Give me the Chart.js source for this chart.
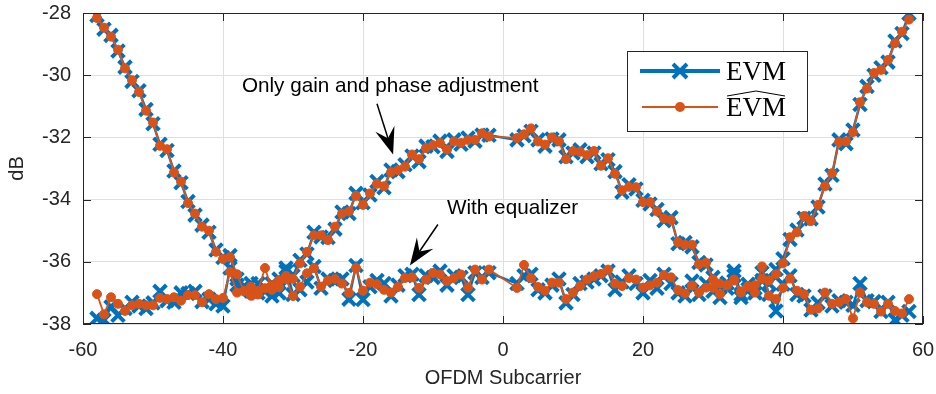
<!DOCTYPE html>
<html>
<head>
<meta charset="utf-8">
<script src="https://cdn.jsdelivr.net/npm/chart.js@4.4.0/dist/chart.umd.min.js"></script>
<style>
  html, body { margin: 0; padding: 0; background: #fff; }
  #wrap { width: 936px; height: 394px; }
</style>
</head>
<body>
<div id="wrap"><canvas id="evmChart" width="936" height="394"></canvas></div>
<script>
// subcarrier indices (DC and its neighbours are not used)
const subcarriers = [
  -58, -57, -56, -55, -54, -53, -52, -51, -50, -49,
  -48, -47, -46, -45, -44, -43, -42, -41, -40, -39,
  -38, -37, -36, -35, -34, -33, -32, -31, -30, -29,
  -28, -27, -26, -25, -24, -23, -22, -21, -20, -19,
  -18, -17, -16, -15, -14, -13, -12, -11, -10, -9,
  -8, -7, -6, -5, -4, -3, -2,
  2, 3, 4, 5, 6, 7, 8, 9, 10, 11,
  12, 13, 14, 15, 16, 17, 18, 19, 20, 21,
  22, 23, 24, 25, 26, 27, 28, 29, 30, 31,
  32, 33, 34, 35, 36, 37, 38, 39, 40, 41,
  42, 43, 44, 45, 46, 47, 48, 49, 50, 51,
  52, 53, 54, 55, 56, 57, 58
]

// only gain and phase adjustment
const gainPhaseEvm = [
  -28.08, -28.52, -28.72, -29.22, -29.74, -30.20, -30.50, -31.10, -31.56, -32.22,
  -32.42, -33.08, -33.46, -34.06, -34.50, -34.82, -35.05, -35.62, -35.86, -35.80,
  -36.55, -36.80, -36.70, -37.00, -36.95, -36.70, -36.55, -36.30, -36.45, -35.95,
  -35.75, -35.05, -35.20, -35.22, -34.95, -34.40, -34.45, -33.80, -34.10, -33.85,
  -33.42, -33.62, -33.05, -33.10, -32.88, -32.60, -32.78, -32.28, -32.30, -32.12,
  -32.45, -32.08, -32.22, -32.02, -32.12, -31.92, -31.93,
  -32.08, -31.95, -31.80, -32.08, -32.28, -32.05, -32.08, -32.62, -32.50, -32.40,
  -32.62, -32.50, -32.85, -32.72, -33.10, -33.76, -33.52, -33.66, -34.02, -34.14,
  -34.32, -34.68, -34.58, -35.42, -35.38, -35.52, -36.02, -36.10, -36.50, -36.78,
  -36.68, -36.30, -37.05, -36.72, -36.85, -36.60, -36.70, -36.25, -35.90, -35.28,
  -34.98, -34.60, -34.62, -34.24, -33.50, -33.22, -32.08, -32.20, -31.76, -30.94,
  -30.36, -30.00, -29.76, -29.58, -28.90, -28.66, -28.02
]
const gainPhaseEvmHat = [
  -28.16, -28.47, -28.76, -29.18, -29.78, -30.16, -30.54, -31.14, -31.52, -32.27,
  -32.38, -33.13, -33.42, -34.11, -34.45, -34.87, -35.00, -35.68, -35.91, -35.85,
  -36.40, -36.95, -36.80, -37.05, -36.85, -36.75, -36.60, -36.45, -36.55, -36.05,
  -35.68, -35.15, -35.15, -35.30, -34.87, -34.45, -34.38, -33.88, -34.17, -33.80,
  -33.49, -33.57, -33.12, -33.05, -32.94, -32.55, -32.70, -32.34, -32.25, -32.18,
  -32.39, -32.13, -32.18, -32.08, -32.08, -31.87, -31.97,
  -32.02, -31.90, -31.71, -32.13, -32.23, -32.00, -32.13, -32.70, -32.44, -32.46,
  -32.57, -32.44, -32.91, -32.67, -33.17, -33.70, -33.59, -33.60, -34.08, -34.08,
  -34.38, -34.61, -34.65, -35.37, -35.45, -35.45, -36.08, -36.03, -36.57, -36.70,
  -36.75, -36.60, -36.95, -36.80, -36.75, -36.55, -36.60, -36.40, -36.05, -35.21,
  -35.05, -34.53, -34.69, -34.17, -33.57, -33.15, -32.15, -32.13, -31.83, -30.87,
  -30.43, -29.93, -29.83, -29.51, -28.97, -28.60, -28.21
]

// with equalizer
const equalizerEvm = [
  -37.82, -37.87, -37.45, -37.72, -37.50, -37.30, -37.42, -37.50, -37.32, -36.95,
  -37.25, -37.30, -37.00, -37.02, -36.95, -37.28, -37.20, -37.35, -37.42, -36.20,
  -36.75, -36.80, -36.95, -36.70, -36.85, -37.10, -37.00, -36.20, -37.05, -36.90,
  -36.65, -36.15, -36.85, -36.55, -36.60, -36.55, -37.20, -36.12, -37.21, -36.80,
  -36.60, -36.70, -37.10, -36.75, -36.45, -36.40, -37.05, -36.45, -36.50, -36.30,
  -36.75, -36.45, -36.50, -37.05, -36.35, -36.50, -36.35,
  -36.70, -36.45, -36.40, -36.90, -37.00, -36.75, -36.55, -37.32, -37.05, -36.70,
  -36.65, -36.55, -36.45, -36.30, -36.90, -36.65, -36.45, -36.70, -37.00, -36.60,
  -36.85, -36.40, -36.70, -37.00, -37.10, -36.62, -37.05, -36.70, -36.95, -37.15,
  -36.85, -36.45, -37.15, -36.88, -37.00, -36.35, -37.05, -37.58, -36.72, -36.45,
  -37.05, -37.10, -37.55, -37.32, -37.10, -37.42, -37.25, -37.30, -37.40, -36.70,
  -37.25, -37.28, -37.60, -37.30, -37.87, -37.72, -37.60
]
const equalizerEvmHat = [
  -37.04, -37.69, -37.14, -37.35, -37.58, -37.40, -37.35, -37.40, -37.40, -37.16,
  -37.20, -37.14, -37.25, -37.07, -37.07, -37.30, -37.04, -37.20, -37.16, -36.33,
  -36.99, -36.94, -37.09, -36.94, -36.20, -36.90, -36.82, -36.56, -37.10, -36.80,
  -36.37, -36.20, -36.80, -36.60, -36.55, -36.70, -37.00, -36.20, -36.93, -36.67,
  -36.72, -36.90, -36.99, -36.81, -36.52, -36.50, -36.84, -36.57, -36.36, -36.41,
  -36.62, -36.52, -36.41, -36.83, -36.25, -36.57, -36.25,
  -36.84, -36.10, -36.52, -36.81, -36.93, -36.67, -36.67, -37.20, -36.99, -36.78,
  -36.57, -36.46, -36.39, -36.25, -36.70, -36.78, -36.52, -36.57, -36.83, -36.76,
  -36.67, -36.43, -36.50, -36.91, -37.02, -36.76, -36.99, -36.83, -36.84, -37.04,
  -36.76, -36.57, -36.99, -36.78, -36.99, -36.15, -37.09, -37.20, -36.84, -36.54,
  -36.93, -37.04, -37.54, -37.50, -36.99, -37.35, -37.30, -37.20, -37.82, -36.99,
  -37.30, -37.35, -37.60, -37.35, -37.58, -37.66, -37.20
]

const xTicks = [-60, -40, -20, 0, 20, 40, 60]
const yTicks = [-38, -36, -34, -32, -30, -28]

const BLUE = '#0072BD'
const ORANGE = '#D95319'
const INK = '#262626'

// text + arrow annotations, in data units
const notes = [
  { label: 'Only gain and phase adjustment', at: [-37.3, -30.35], tail: [-18.0, -30.92], tip: [-15.7, -32.55] },
  { label: 'With equalizer', at: [-8.0, -34.27], tail: [-9.3, -34.8], tip: [-13.3, -36.12] }
]

const toPoints = (values) => subcarriers.map((x, i) => ({ x: x, y: values[i] }))

const evmSet = (values) => ({
  data: toPoints(values),
  borderColor: BLUE,
  borderWidth: 2.5,
  pointStyle: 'crossRot',
  pointRadius: 9,
  pointBorderWidth: 4,
  pointBorderColor: BLUE,
  pointBackgroundColor: BLUE,
  tension: 0,
  order: 1
})

const evmHatSet = (values) => ({
  data: toPoints(values),
  borderColor: ORANGE,
  borderWidth: 1.8,
  pointStyle: 'circle',
  pointRadius: 4.5,
  pointBorderWidth: 1,
  pointBorderColor: ORANGE,
  pointBackgroundColor: ORANGE,
  tension: 0,
  order: 0
})

const drawArrow = (ctx, x0, y0, x1, y1) => {
  const ang = Math.atan2(y1 - y0, x1 - x0)
  const c = Math.cos(ang), s = Math.sin(ang)
  const len = 27, half = 10, notch = 17
  ctx.beginPath()
  ctx.moveTo(x0, y0)
  ctx.lineTo(x1 - c * notch, y1 - s * notch)
  ctx.stroke()
  ctx.beginPath()
  ctx.moveTo(x1, y1)
  ctx.lineTo(x1 - len * c + half * s, y1 - len * s - half * c)
  ctx.lineTo(x1 - notch * c, y1 - notch * s)
  ctx.lineTo(x1 - len * c - half * s, y1 - len * s + half * c)
  ctx.closePath()
  ctx.fill()
}

// box around the axes with inward ticks on all four sides
const framePlugin = {
  id: 'frame',
  afterDatasetsDraw(chart) {
    const { ctx, chartArea: a, scales: { x, y } } = chart
    ctx.save()
    ctx.strokeStyle = INK
    ctx.lineWidth = 1
    ctx.beginPath()
    for (const v of xTicks) {
      const px = Math.round(x.getPixelForValue(v)) + 0.5
      ctx.moveTo(px, a.bottom); ctx.lineTo(px, a.bottom - 8)
      ctx.moveTo(px, a.top); ctx.lineTo(px, a.top + 8)
    }
    for (const v of yTicks) {
      const py = Math.round(y.getPixelForValue(v)) + 0.5
      ctx.moveTo(a.left, py); ctx.lineTo(a.left + 8, py)
      ctx.moveTo(a.right, py); ctx.lineTo(a.right - 8, py)
    }
    ctx.stroke()
    ctx.strokeRect(Math.round(a.left) + 0.5, Math.round(a.top) + 0.5, Math.round(a.width) - 1, Math.round(a.height) - 1)
    ctx.restore()
  }
}

const notesPlugin = {
  id: 'notes',
  afterDraw(chart) {
    const { ctx, scales: { x, y } } = chart
    ctx.save()
    ctx.fillStyle = '#000'
    ctx.strokeStyle = '#000'
    ctx.lineWidth = 1.5
    ctx.font = '20.7px "Liberation Sans", Arial, sans-serif'
    ctx.textAlign = 'left'
    ctx.textBaseline = 'middle'
    for (const n of notes) {
      ctx.fillText(n.label, x.getPixelForValue(n.at[0]), y.getPixelForValue(n.at[1]))
      drawArrow(ctx,
        x.getPixelForValue(n.tail[0]), y.getPixelForValue(n.tail[1]),
        x.getPixelForValue(n.tip[0]), y.getPixelForValue(n.tip[1]))
    }
    ctx.restore()
  }
}

const legendPlugin = {
  id: 'evmLegend',
  afterDraw(chart) {
    const { ctx, chartArea: a } = chart
    const left = a.right - 296, top = a.top + 38, w = 180, h = 80
    ctx.save()
    ctx.fillStyle = '#fff'
    ctx.fillRect(left, top, w, h)
    ctx.strokeStyle = INK
    ctx.lineWidth = 1
    ctx.strokeRect(left + 0.5, top + 0.5, w, h)

    // EVM row
    const y1 = top + 20
    ctx.strokeStyle = BLUE
    ctx.lineWidth = 4
    ctx.beginPath(); ctx.moveTo(left + 13, y1); ctx.lineTo(left + 93, y1); ctx.stroke()
    ctx.beginPath()
    ctx.moveTo(left + 53 - 7, y1 - 7); ctx.lineTo(left + 53 + 7, y1 + 7)
    ctx.moveTo(left + 53 + 7, y1 - 7); ctx.lineTo(left + 53 - 7, y1 + 7)
    ctx.stroke()

    // EVM-hat row
    const y2 = top + 56
    ctx.strokeStyle = ORANGE
    ctx.fillStyle = ORANGE
    ctx.lineWidth = 2
    ctx.beginPath(); ctx.moveTo(left + 15, y2); ctx.lineTo(left + 91, y2); ctx.stroke()
    ctx.beginPath(); ctx.arc(left + 53, y2, 5, 0, Math.PI * 2); ctx.fill()

    ctx.fillStyle = '#000'
    ctx.font = '27px "Liberation Serif", "Times New Roman", serif'
    ctx.textAlign = 'left'
    ctx.textBaseline = 'alphabetic'
    const tx = left + 99
    ctx.fillText('EVM', tx, top + 29)
    ctx.fillText('EVM', tx, top + 65)
    const tw = ctx.measureText('EVM').width
    ctx.strokeStyle = '#000'
    ctx.lineWidth = 1
    ctx.beginPath()
    ctx.moveTo(tx + 1, top + 45)
    ctx.lineTo(tx + tw / 2, top + 40)
    ctx.lineTo(tx + tw - 1, top + 45)
    ctx.stroke()
    ctx.restore()
  }
}

const tickFont = { family: '"Liberation Sans", Arial, sans-serif', size: 20 }

// drop the extra room Chart.js keeps for overhanging tick labels
const noOverhang = (scale) => {
  scale.paddingLeft = 0
  scale.paddingRight = 0
  scale.paddingTop = 0
  scale.paddingBottom = 0
}

new Chart(document.getElementById('evmChart'), {
  type: 'line',
  data: {
    datasets: [
      evmSet(gainPhaseEvm),
      evmHatSet(gainPhaseEvmHat),
      evmSet(equalizerEvm),
      evmHatSet(equalizerEvmHat)
    ]
  },
  options: {
    responsive: false,
    animation: false,
    devicePixelRatio: 1,
    layout: { padding: { top: 5, right: 13, left: 0, bottom: 0 } },
    plugins: {
      legend: { display: false },
      tooltip: { enabled: false }
    },
    scales: {
      x: {
        type: 'linear',
        min: -60,
        max: 60,
        afterBuildTicks: (scale) => { scale.ticks = xTicks.map(v => ({ value: v })) },
        afterFit: (scale) => { scale.height = 70; noOverhang(scale) },
        border: { display: false },
        grid: { color: '#dfdfdf', lineWidth: 1, drawTicks: false },
        ticks: { color: INK, font: tickFont, padding: 14, maxRotation: 0 },
        title: { display: true, text: 'OFDM Subcarrier', color: INK, font: tickFont, padding: { top: 0, bottom: 4 } }
      },
      y: {
        min: -38,
        max: -28,
        afterBuildTicks: (scale) => { scale.ticks = yTicks.map(v => ({ value: v })) },
        afterFit: (scale) => { scale.width = 83; noOverhang(scale) },
        border: { display: false },
        grid: { color: '#dfdfdf', lineWidth: 1, drawTicks: false },
        ticks: { color: INK, font: tickFont, padding: 12 },
        title: { display: true, text: 'dB', color: INK, font: tickFont, padding: { top: 5, bottom: 0 } }
      }
    }
  },
  plugins: [framePlugin, notesPlugin, legendPlugin]
})
</script>
</body>
</html>
